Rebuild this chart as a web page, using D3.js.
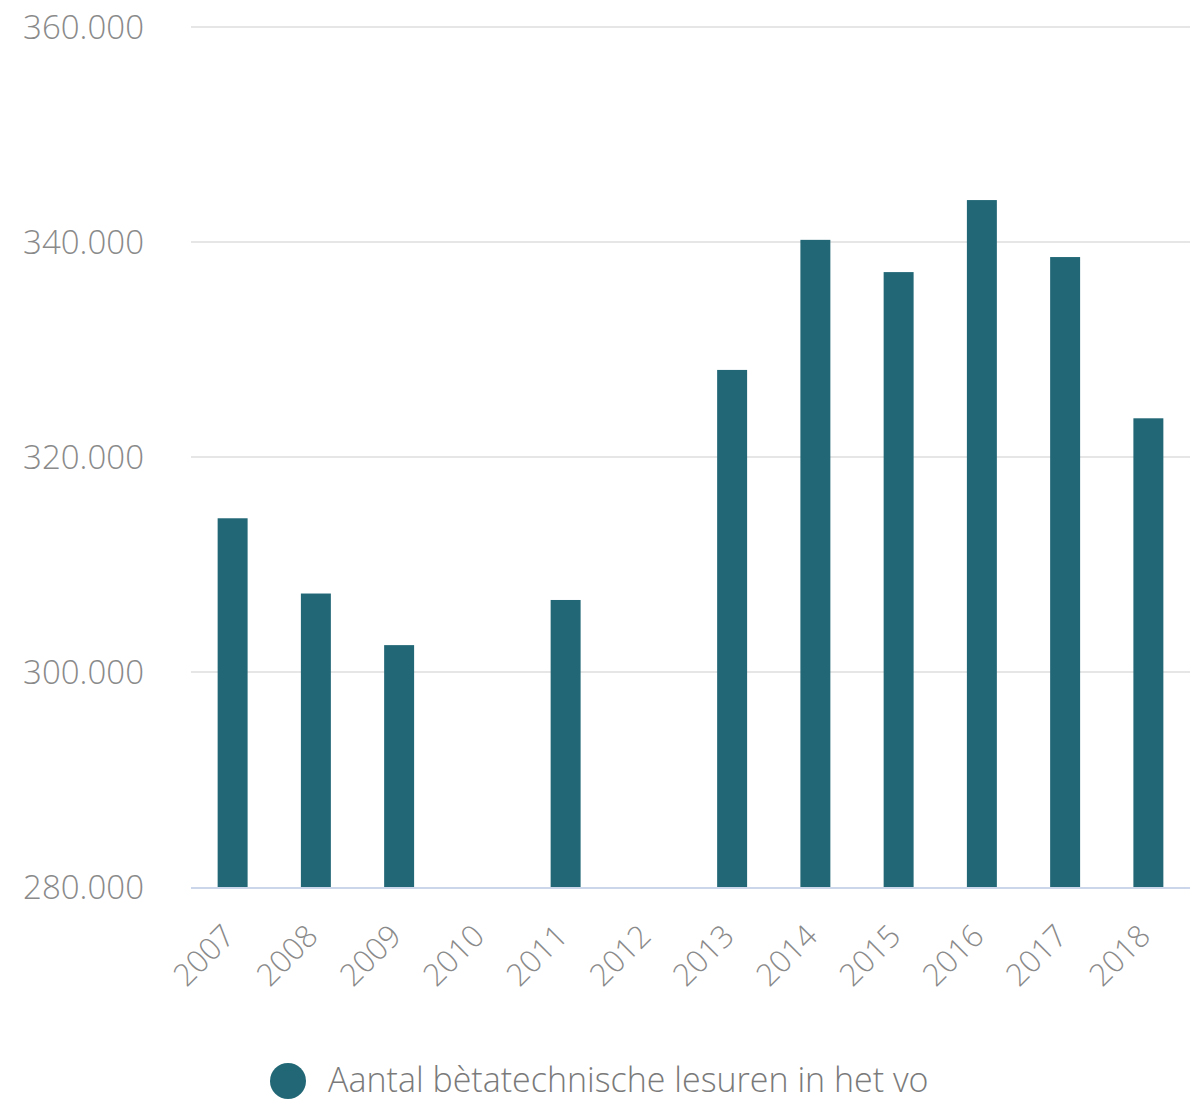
<!DOCTYPE html>
<html>

<head>
    <meta charset="UTF-8">
    <title>Aantal bètatechnische lesuren in het vo</title>
    <style>
        body { margin: 0; background: #fff; }
        text { font-family: 'Open Sans', Lato, sans-serif; font-weight: 300; }
    </style>
</head>

<body>
    <svg></svg>
    <script src="https://d3js.org/d3.v7.min.js"></script>
    <script>
        // data
        const years = ["2007", "2008", "2009", "2010", "2011", "2012", "2013", "2014", "2015", "2016", "2017", "2018"];
        const lesuren = [314300, 307300, 302500, null, 306700, null, 328100, 340200, 337200, 343900, 338600, 323600];
        const yTicks = [280000, 300000, 320000, 340000, 360000];
        const seriesName = "Aantal bètatechnische lesuren in het vo";

        let width = 1193,
            height = 1101;

        let svg = d3.select("svg")
            .attr("width", width)
            .attr("height", height);

        const x = d3.scaleBand()
            .domain(years)
            .range([191, 1190])
            .paddingInner(0.64)
            .paddingOuter(0.32);

        const y = d3.scaleLinear()
            .domain([280000, 360000])
            .range([887, 27]);

        // gridlines
        svg.append('g')
            .selectAll('line')
            .data(yTicks.slice(1))
            .enter().append('line')
            .attr('x1', 191)
            .attr('x2', 1190)
            .attr('y1', d => y(d))
            .attr('y2', d => y(d))
            .attr('stroke', '#e6e6e6')
            .attr('stroke-width', 2);

        // y labels
        const fmt = d => d3.format(",")(d).replace(/,/g, ".");
        svg.append('g')
            .selectAll('text')
            .data(yTicks)
            .enter().append('text')
            .attr('x', 144)
            .attr('y', d => y(d) + 12)
            .attr('text-anchor', 'end')
            .attr('font-size', 33)
            .attr('fill', '#8a8a8a')
            .text(fmt);

        // bars
        const data = years.map((yr, i) => ({ year: yr, value: lesuren[i] })).filter(d => d.value != null);
        svg.append('g')
            .selectAll('rect')
            .data(data)
            .enter().append('rect')
            .attr('x', d => x(d.year))
            .attr('width', x.bandwidth())
            .attr('y', d => y(d.value))
            .attr('height', d => y(280000) - y(d.value))
            .attr('fill', '#216776');

        // x axis line
        svg.append('line')
            .attr('x1', 191)
            .attr('x2', 1190)
            .attr('y1', y(280000) + 1)
            .attr('y2', y(280000) + 1)
            .attr('stroke', '#ccd6eb')
            .attr('stroke-width', 2);

        // x labels, rotated
        svg.append('g')
            .selectAll('text')
            .data(years)
            .enter().append('text')
            .attr('transform', d => `translate(${x(d) + x.bandwidth() / 2 + 4},${938}) rotate(-45)`)
            .attr('text-anchor', 'end')
            .attr('font-size', 31)
            .attr('fill', '#8a8a8a')
            .text(d => d);

        // legend
        const legend = svg.append('g');
        legend.append('circle')
            .attr('cx', 288)
            .attr('cy', 1081)
            .attr('r', 18)
            .attr('fill', '#216776');
        legend.append('text')
            .attr('x', 328)
            .attr('y', 1092)
            .attr('font-size', 34)
            .attr('fill', '#7a7a7a')
            .text(seriesName);
    </script>
</body>

</html>
